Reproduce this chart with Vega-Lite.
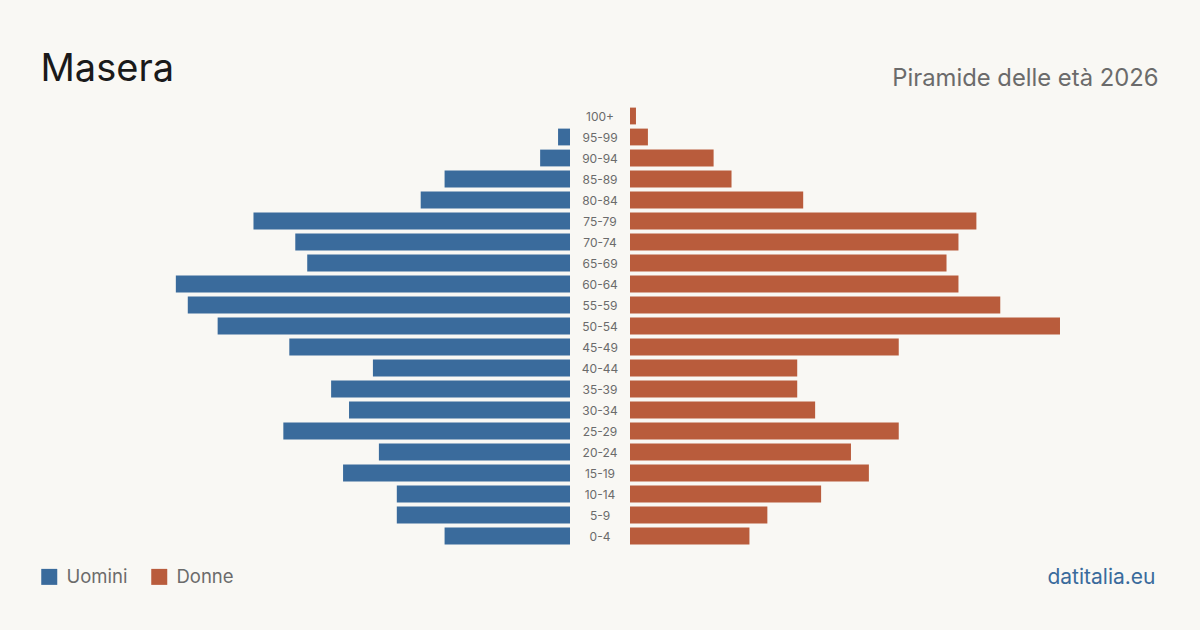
{
  "$schema": "https://vega.github.io/schema/vega-lite/v6.json",
  "autosize": "none",
  "width": 1140,
  "height": 441,
  "padding": {"left": 30, "top": 105.5, "right": 30, "bottom": 83.5},
  "background": "#f9f8f4",
  "config": {
    "font": "Inter",
    "view": {"stroke": null}
  },
  "data": {
    "values": [
      {"eta": "100+", "sesso": "Uomini", "persone": 0},
      {"eta": "95-99", "sesso": "Uomini", "persone": 2},
      {"eta": "90-94", "sesso": "Uomini", "persone": 5},
      {"eta": "85-89", "sesso": "Uomini", "persone": 21},
      {"eta": "80-84", "sesso": "Uomini", "persone": 25},
      {"eta": "75-79", "sesso": "Uomini", "persone": 53},
      {"eta": "70-74", "sesso": "Uomini", "persone": 46},
      {"eta": "65-69", "sesso": "Uomini", "persone": 44},
      {"eta": "60-64", "sesso": "Uomini", "persone": 66},
      {"eta": "55-59", "sesso": "Uomini", "persone": 64},
      {"eta": "50-54", "sesso": "Uomini", "persone": 59},
      {"eta": "45-49", "sesso": "Uomini", "persone": 47},
      {"eta": "40-44", "sesso": "Uomini", "persone": 33},
      {"eta": "35-39", "sesso": "Uomini", "persone": 40},
      {"eta": "30-34", "sesso": "Uomini", "persone": 37},
      {"eta": "25-29", "sesso": "Uomini", "persone": 48},
      {"eta": "20-24", "sesso": "Uomini", "persone": 32},
      {"eta": "15-19", "sesso": "Uomini", "persone": 38},
      {"eta": "10-14", "sesso": "Uomini", "persone": 29},
      {"eta": "5-9", "sesso": "Uomini", "persone": 29},
      {"eta": "0-4", "sesso": "Uomini", "persone": 21},
      {"eta": "100+", "sesso": "Donne", "persone": 1},
      {"eta": "95-99", "sesso": "Donne", "persone": 3},
      {"eta": "90-94", "sesso": "Donne", "persone": 14},
      {"eta": "85-89", "sesso": "Donne", "persone": 17},
      {"eta": "80-84", "sesso": "Donne", "persone": 29},
      {"eta": "75-79", "sesso": "Donne", "persone": 58},
      {"eta": "70-74", "sesso": "Donne", "persone": 55},
      {"eta": "65-69", "sesso": "Donne", "persone": 53},
      {"eta": "60-64", "sesso": "Donne", "persone": 55},
      {"eta": "55-59", "sesso": "Donne", "persone": 62},
      {"eta": "50-54", "sesso": "Donne", "persone": 72},
      {"eta": "45-49", "sesso": "Donne", "persone": 45},
      {"eta": "40-44", "sesso": "Donne", "persone": 28},
      {"eta": "35-39", "sesso": "Donne", "persone": 28},
      {"eta": "30-34", "sesso": "Donne", "persone": 31},
      {"eta": "25-29", "sesso": "Donne", "persone": 45},
      {"eta": "20-24", "sesso": "Donne", "persone": 37},
      {"eta": "15-19", "sesso": "Donne", "persone": 40},
      {"eta": "10-14", "sesso": "Donne", "persone": 32},
      {"eta": "5-9", "sesso": "Donne", "persone": 23},
      {"eta": "0-4", "sesso": "Donne", "persone": 20}
    ]
  },
  "encoding": {
    "y": {
      "field": "eta",
      "type": "nominal",
      "sort": ["100+", "95-99", "90-94", "85-89", "80-84", "75-79", "70-74", "65-69", "60-64", "55-59", "50-54", "45-49", "40-44", "35-39", "30-34", "25-29", "20-24", "15-19", "10-14", "5-9", "0-4"],
      "scale": {"paddingInner": 0.2, "paddingOuter": 0.1},
      "axis": {
        "domain": false,
        "ticks": false,
        "labels": false,
        "grid": false,
        "title": "Masera",
        "titleAngle": 0,
        "titleX": 10,
        "titleY": -25.5,
        "titleAlign": "left",
        "titleBaseline": "alphabetic",
        "titleFontSize": 38,
        "titleFontWeight": "normal",
        "titleColor": "#1a1a1a"
      }
    }
  },
  "layer": [
    {
      "transform": [{"filter": "datum.sesso === 'Uomini'"}],
      "mark": {"type": "bar"},
      "encoding": {
        "x": {
          "field": "persone",
          "type": "quantitative",
          "scale": {"domain": [0, 90.42], "range": [540, 0], "nice": false, "zero": true},
          "axis": {
            "orient": "bottom",
            "domain": false,
            "ticks": false,
            "labels": false,
            "grid": false,
            "title": "datitalia.eu",
            "titleX": 1125,
            "titleY": 36.5,
            "titleAlign": "right",
            "titleBaseline": "alphabetic",
            "titleFontSize": 21,
            "titleFontWeight": "normal",
            "titleColor": "#3a6b9c"
          }
        },
        "color": {
          "field": "sesso",
          "type": "nominal",
          "scale": {"domain": ["Uomini", "Donne"], "range": ["#3a6b9c", "#b95c3c"]},
          "legend": {
            "title": null,
            "orient": "none",
            "legendX": 10,
            "legendY": 462,
            "direction": "horizontal",
            "symbolType": "square",
            "symbolSize": 256,
            "symbolStrokeWidth": 0,
            "symbolOpacity": 1,
            "labelFontSize": 18.5,
            "labelColor": "#6b6b6b",
            "labelOffset": 8,
            "columnPadding": 22
          }
        }
      }
    },
    {
      "transform": [{"filter": "datum.sesso === 'Donne'"}],
      "mark": {"type": "bar"},
      "encoding": {
        "x": {
          "field": "persone",
          "type": "quantitative",
          "scale": {"domain": [0, 90.42], "range": [600, 1140], "nice": false, "zero": true},
          "axis": {
            "orient": "top",
            "domain": false,
            "ticks": false,
            "labels": false,
            "grid": false,
            "title": "Piramide delle età 2026",
            "titleX": 1128,
            "titleY": -20.5,
            "titleAlign": "right",
            "titleBaseline": "alphabetic",
            "titleFontSize": 23.8,
            "titleFontWeight": "normal",
            "titleColor": "#6b6b6b"
          }
        },
        "color": {"field": "sesso", "type": "nominal"}
      }
    },
    {
      "transform": [{"filter": "datum.sesso === 'Donne'"}],
      "mark": {"type": "text", "align": "center", "baseline": "middle", "dy": 1, "fontSize": 12, "color": "#6b6b6b"},
      "encoding": {
        "text": {"field": "eta"}
      }
    }
  ],
  "resolve": {"scale": {"x": "independent"}}
}
